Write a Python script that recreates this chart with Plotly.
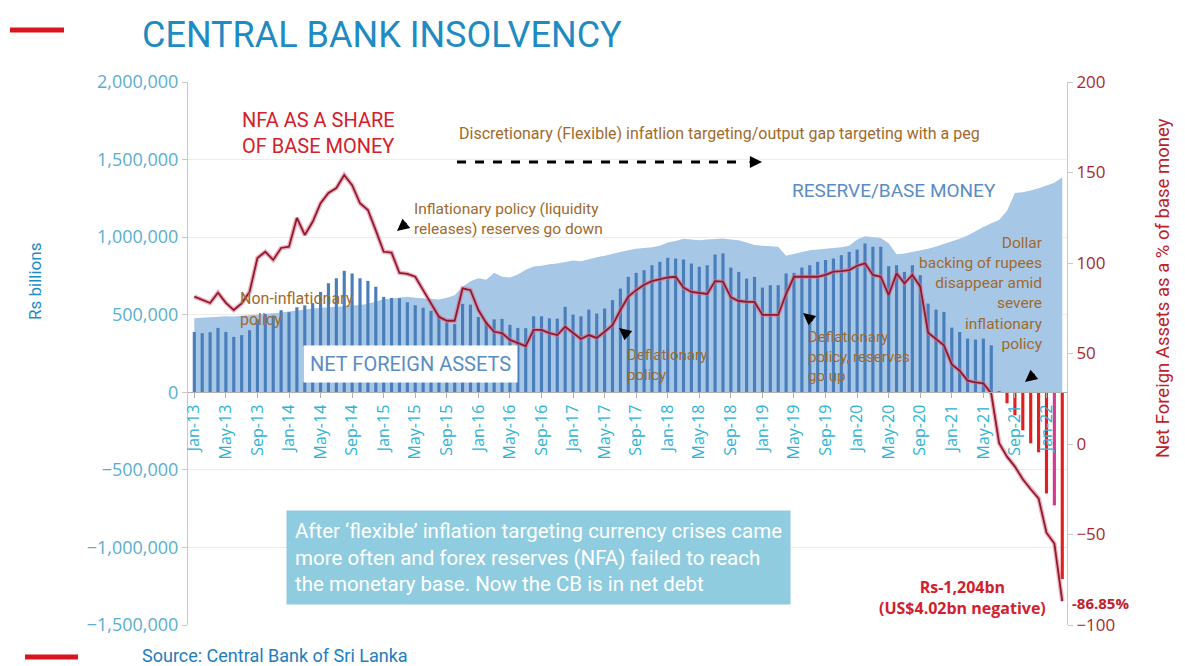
import plotly.graph_objects as go

# ---------------- data ----------------
month_names = ["Jan", "Feb", "Mar", "Apr", "May", "Jun", "Jul", "Aug", "Sep", "Oct", "Nov", "Dec"]
months = [f"{m}-{y:02d}" for y in range(13, 23) for m in month_names][:111]  # Jan-13 .. Mar-22

# Net foreign assets (Rs mn, bars)
nfa = [389, 381, 387, 415, 389, 357, 368, 400, 470, 505, 495, 529,
       516, 548, 560, 575, 647, 703, 735, 783, 766, 735, 718, 680,
       615, 608, 606, 580, 561, 545, 525, 495, 450, 440, 570, 565,
       485, 455, 470, 473, 435, 415, 413, 490, 490, 477, 475, 551,
       501, 490, 533, 508, 540, 594, 669, 744, 770, 787, 819, 841,
       867, 862, 856, 830, 809, 819, 888, 895, 804, 776, 733, 744,
       675, 690, 690, 766, 770, 804, 819, 841, 852, 862, 884, 905,
       920, 959, 938, 938, 813, 819, 776, 819, 755, 572, 533, 518,
       417, 389, 346, 340, 346, 303, 8, -71, -148, -245, -329, -387,
       -652, -729, -1204]
nfa = [v * 1000 for v in nfa]

# Reserve / base money (Rs mn, area)
base_money = [478, 482, 485, 488, 490, 488, 492, 495, 500, 505, 510, 515,
              520, 528, 535, 540, 545, 550, 552, 555, 558, 562, 570, 585,
              600, 605, 608, 615, 610, 605, 600, 598, 610, 625, 680, 715,
              735, 725, 770, 745, 740, 760, 790, 810, 815, 825, 830, 840,
              850, 845, 860, 870, 880, 895, 905, 915, 925, 930, 935, 945,
              965, 975, 990, 985, 980, 985, 990, 992, 985, 980, 965, 950,
              945, 940, 938, 880, 895, 905, 915, 920, 925, 930, 935, 945,
              985, 1005, 1000, 995, 960, 890, 895, 905, 915, 925, 940, 955,
              970, 990, 1010, 1040, 1065, 1090, 1110, 1170, 1285, 1290, 1300, 1315,
              1335, 1350, 1386]
base_money = [v * 1000 for v in base_money]

# NFA as a % of base money (line, right axis)
nfa_share = [81.4, 79.6, 77.9, 83.6, 78.0, 74.0, 77.7, 84.0, 102.8, 106.2, 101.7, 108.3,
             109.0, 124.9, 115.5, 122.8, 133.0, 138.7, 141.4, 148.6, 143.0, 133.0, 129.3, 118.0,
             106.2, 105.7, 94.5, 94.0, 92.4, 85.0, 77.9, 70.3, 68.1, 68.1, 86.0, 85.0,
             74.0, 66.9, 62.0, 61.3, 57.5, 55.8, 54.1, 63.0, 63.0, 61.3, 60.2, 64.8,
             61.3, 58.0, 60.2, 58.6, 62.0, 65.7, 74.0, 81.4, 85.0, 88.0, 90.0, 91.2,
             92.0, 92.4, 86.5, 84.0, 83.4, 82.9, 90.0, 89.7, 81.0, 79.0, 78.6, 78.5,
             71.3, 71.3, 71.3, 83.0, 92.4, 92.4, 92.4, 92.4, 93.5, 95.2, 95.5, 96.1,
             98.5, 99.8, 93.4, 92.4, 82.3, 94.3, 88.8, 93.4, 86.9, 61.5, 58.0, 54.5,
             44.0, 40.5, 35.0, 34.0, 33.5, 28.0, 0.5, -7.0, -12.5, -19.5, -25.0, -30.0,
             -49.0, -55.0, -86.85]

x_tick_labels = months[::4]
left_ticks = [-1500000, -1000000, -500000, 0, 500000, 1000000, 1500000, 2000000]
right_ticks = [-100, -50, 0, 50, 100, 150, 200]

# ---------------- styling ----------------
COND = "Roboto, Open Sans, sans-serif"
TICKF = "Open Sans, sans-serif"
BROWN = "#a06a2c"
BLUE_LBL = "#5b8cc4"
RED = "#d4202c"

bar_colors = ["#4a7ebb" if v >= 0 else "#e02020" for v in nfa]
bar_colors[109] = "#d63a8c"

W, H = 1185, 666
L, R, T, B = 188, 1067, 82, 625
LEFT_RANGE = [-1500000, 2000000]


def px(x):
    return (x - L) / (R - L)


def py(y):
    return (B - y) / (B - T)


fig = go.Figure()

fig.add_trace(go.Scatter(x=months, y=base_money, mode="lines", fill="tozeroy",
                         line=dict(color="#a7c7e7", width=0), fillcolor="#a7c7e7",
                         name="Reserve/Base money", showlegend=False))
fig.add_trace(go.Bar(x=months, y=nfa, yaxis="y2",
                     marker=dict(color=bar_colors, line=dict(width=0)),
                     name="NFA", showlegend=False))
fig.add_trace(go.Scatter(x=months, y=nfa_share, mode="lines", yaxis="y3",
                         line=dict(color="rgba(224,110,140,0.55)", width=4.5),
                         showlegend=False, hoverinfo="skip"))
fig.add_trace(go.Scatter(x=months, y=nfa_share, mode="lines", yaxis="y3",
                         line=dict(color="#8e1b2c", width=1.8),
                         name="NFA share", showlegend=False))

fig.update_layout(
    width=W, height=H,
    margin=dict(l=L, r=W - R, t=T, b=H - B),
    paper_bgcolor="white", plot_bgcolor="white",
    bargap=0.6,
    showlegend=False,
    xaxis=dict(type="category", anchor="free", position=1.5 / 3.5,
               tickmode="array", tickvals=x_tick_labels, ticktext=x_tick_labels,
               tickangle=-90, tickfont=dict(family=TICKF, size=16, color="#2bb3d6"),
               ticks="outside", ticklen=5, tickcolor="#b0b0b0",
               showline=True, linecolor="#b0b0b0", linewidth=1, showgrid=False,
               range=[-0.8, 110.6]),
    yaxis=dict(range=LEFT_RANGE, tickvals=left_ticks, tickformat=",",
               tickfont=dict(family=TICKF, size=18, color="#5aaed0"),
               showline=True, linecolor="#c8c8c8", ticks="outside", ticklen=5, tickcolor="#c8c8c8",
               showgrid=True, gridcolor="#ececec", zeroline=False),
    yaxis2=dict(range=LEFT_RANGE, overlaying="y", visible=False, showgrid=False, zeroline=False),
    yaxis3=dict(range=[-100, 200], tickvals=right_ticks, overlaying="y", side="right",
                tickfont=dict(family=TICKF, size=17, color="#a8282e"),
                showline=True, linecolor="#c8c8c8", ticks="outside", ticklen=5, tickcolor="#c8c8c8",
                showgrid=False, zeroline=False),
)

ann = []


def text(x, y, s, color, size, xanchor="left", yanchor="middle", align="left", family=COND, **kw):
    ann.append(dict(x=px(x), y=py(y), xref="paper", yref="paper", text=s, showarrow=False,
                    xanchor=xanchor, yanchor=yanchor, align=align,
                    font=dict(family=family, size=size, color=color), **kw))


def arrow(x, y, ax, ay):
    ann.append(dict(x=px(x), y=py(y), xref="paper", yref="paper", text="", showarrow=True,
                    ax=ax, ay=ay, arrowhead=2, arrowsize=1.1, arrowwidth=2.2, arrowcolor="black"))


text(140, 35, "CENTRAL BANK INSOLVENCY", "#1e8bc3", 36)
text(240, 133, "NFA AS A SHARE<br>OF BASE MONEY", RED, 20)
text(457, 133, "Discretionary (Flexible) infatlion targeting/output gap targeting with a peg", BROWN, 16)
text(412, 219, "Inflationary policy (liquidity<br>releases) reserves go down", BROWN, 15.5)
text(790, 190, "RESERVE/BASE MONEY", BLUE_LBL, 19)
text(238, 309, "Non-inflationary<br>policy", BROWN, 16)
text(303, 364, "NET FOREIGN ASSETS", BLUE_LBL, 20, bgcolor="white", borderpad=6)
text(625, 365, "Deflationary<br>policy", BROWN, 15)
text(806, 357, "Deflationary<br>policy, reserves<br>go up", BROWN, 15)
text(1045, 293, "Dollar<br>backing of rupees<br>disappear amid<br>severe<br>inflationary<br>policy",
     BROWN, 15.5, xanchor="right", align="right")
text(286, 557, "After ‘flexible’ inflation targeting currency crises came<br>"
               "more often and forex reserves (NFA) failed to reach<br>"
               "the monetary base. Now the CB is in net debt",
     "white", 20.5, bgcolor="#90cce0", borderpad=8)
text(962, 597, "<b>Rs-1,204bn<br>(US$4.02bn negative)</b>", RED, 16, xanchor="center", align="center",
     family="Open Sans, sans-serif")
text(1070, 603, "<b>-86.85%</b>", "#c0202a", 15, family="Open Sans, sans-serif")
text(140, 655, "Source: Central Bank of Sri Lanka", "#1d7dbf", 18)
text(35, 282, "Rs billions", "#1e8bc3", 17, xanchor="center", align="center", textangle=-90)
text(1163, 288, "Net Foreign Assets as a % of base money", "#c0202a", 18.5, xanchor="center",
     align="center", textangle=-90)

arrow(397, 231, 11, -9)
arrow(762, 162, -14, 0)
arrow(619, 328, 11, 9)
arrow(803, 313, 11, 9)
arrow(1025, 382, 11, -9)

fig.update_layout(annotations=ann)

shapes = [
    dict(type="line", xref="paper", yref="paper", x0=px(457), x1=px(745), y0=py(162), y1=py(162),
         line=dict(color="black", width=3, dash="dash")),
    dict(type="line", xref="paper", yref="paper", x0=px(10), x1=px(64), y0=py(30), y1=py(30),
         line=dict(color="#d8141c", width=5)),
    dict(type="line", xref="paper", yref="paper", x0=px(25), x1=px(78), y0=py(657), y1=py(657),
         line=dict(color="#d8141c", width=5)),
]
fig.update_layout(shapes=shapes)

fig.write_html("out.html")
